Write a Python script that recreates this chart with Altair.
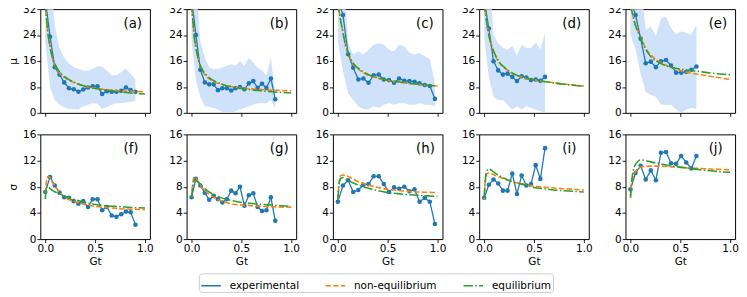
import altair as alt
import pandas as pd

SERIES = ["experimental", "non-equilibrium", "equilibrium"]
COLORS = ["#1f77b4", "#ff7f0e", "#2ca02c"]
DASHES = [[1, 0], [5.5, 2.4], [9.6, 2.4, 1.5, 2.4]]
BAND_COLOR = "#d0e2f9"
FONT = "DejaVu Sans"

# ---- experimental bins (Gt) ----
gt_a = [0.0, 0.048, 0.095, 0.143, 0.19, 0.238, 0.286, 0.333, 0.381, 0.429, 0.476, 0.524, 0.571, 0.619, 0.667, 0.714, 0.762, 0.81, 0.857, 0.905]
gt_b = [0.0, 0.044, 0.088, 0.133, 0.177, 0.221, 0.265, 0.309, 0.354, 0.398, 0.442, 0.486, 0.53, 0.575, 0.619, 0.663, 0.707, 0.751, 0.796, 0.84]
gt_c = [0.0, 0.051, 0.103, 0.154, 0.205, 0.256, 0.308, 0.359, 0.41, 0.461, 0.513, 0.564, 0.615, 0.667, 0.718, 0.769, 0.82, 0.872, 0.923, 0.974]
gt_d = [0.0, 0.047, 0.094, 0.141, 0.188, 0.235, 0.282, 0.329, 0.376, 0.423, 0.47, 0.517, 0.564, 0.611]
gt_e = [0.0, 0.051, 0.102, 0.153, 0.204, 0.255, 0.306, 0.357, 0.407, 0.458, 0.509, 0.56, 0.611, 0.662]

# ---- experimental mu (top row) ----
mu_a = [35, 23.5, 14.1, 11.8, 9.4, 7.6, 7.3, 6.5, 7.2, 7.8, 8.2, 8.2, 5.8, 6.7, 6.5, 6.5, 6.8, 7.8, 7.0, 6.5]
mu_b = [35, 24.0, 13.3, 9.4, 8.8, 8.8, 7.0, 7.6, 7.6, 6.9, 7.6, 8.0, 7.3, 9.1, 9.8, 7.7, 9.0, 7.7, 10.6, 4.2]
mu_c = [35, 30.2, 18.1, 13.9, 10.3, 10.6, 9.3, 11.6, 11.8, 10.3, 10.1, 9.3, 10.6, 9.9, 9.8, 9.6, 9.1, 8.6, 8.3, 4.3]
mu_d = [35, 26.0, 15.9, 13.1, 11.8, 12.1, 11.1, 9.8, 11.3, 10.9, 10.1, 10.3, 9.9, 11.1]
mu_e = [35, 30.2, 22.9, 15.3, 15.8, 14.1, 15.9, 16.3, 14.6, 12.4, 12.4, 12.7, 13.3, 14.3]

# ---- shaded spread of mu ----
lo_a = [22, 8, 4, 2.5, 1.8, 1.2, 1.2, 1.0, 2.0, 2.5, 3.0, 2.8, 1.2, 1.8, 2.5, 3.0, 3.0, 3.2, 3.4, 3.7]
hi_a = [50, 45, 27, 20, 17, 15.2, 14.1, 13.6, 13, 13, 13.6, 14.3, 14.3, 13, 11.6, 11.6, 12.6, 13.6, 12.1, 10.1]
lo_b = [22, 10, 5, 2, 1.8, 1.5, 1.0, 0.3, 0.2, 0, 0.5, 1.0, 1.5, 2, 2.5, 3, 3, 3, 4, 1.5]
hi_b = [50, 40, 22, 17, 14, 13.5, 13.5, 14, 14.5, 15, 14.5, 16, 14.5, 17, 15.5, 14, 13, 11.5, 17, 6]
lo_c = [22, 13, 6, 4, 2, 1.2, 1, 2, 1.5, 2.5, 3, 2.5, 3, 3, 2.5, 2.5, 3, 2.5, 2.5, 2]
hi_c = [50, 45, 21.5, 18, 19, 18, 19.5, 21, 21.5, 21, 19.5, 19, 21, 20.5, 18.6, 18, 18.5, 17.5, 16.6, 9]
lo_d = [23, 11, 5, 4, 4, 2.5, 1, 2, 1, 2, 1.5, 1, 0.5, 0]
hi_d = [50, 45, 24, 21.5, 20, 19.5, 20.6, 17.6, 21, 20, 20, 21.6, 19.6, 24.6]
lo_e = [24, 19.6, 12, 6.5, 5.5, 5.0, 2.5, 2.5, 2.5, 1.0, 0, 1.0, 1.5, 1.2]
hi_e = [50, 45, 40, 25.5, 26.7, 23.7, 29.2, 29.7, 26.2, 24.2, 25.2, 24.7, 24.2, 27]

# ---- experimental sigma (bottom row) ----
sg_f = [7.2, 9.5, 8.2, 7.1, 6.4, 6.3, 5.8, 5.4, 5.8, 4.9, 6.1, 6.1, 4.4, 4.9, 3.6, 3.4, 3.8, 4.2, 4.1, 2.2]
sg_g = [6.4, 9.2, 8.2, 7.1, 6.0, 6.6, 6.1, 5.6, 6.1, 7.4, 7.0, 8.0, 5.1, 6.7, 7.0, 4.9, 4.3, 4.4, 6.4, 2.8]
sg_h = [5.7, 8.2, 9.0, 7.2, 7.5, 8.3, 8.4, 9.6, 9.6, 8.4, 7.2, 7.9, 7.7, 8.0, 7.3, 7.6, 5.7, 6.3, 5.7, 2.3]
sg_i = [6.3, 8.3, 9.1, 8.5, 7.4, 7.4, 10.0, 6.9, 9.7, 8.2, 8.4, 11.3, 9.2, 13.9]
sg_j = [7.6, 10.1, 11.2, 9.1, 10.5, 9.0, 13.2, 13.3, 11.6, 11.5, 12.7, 11.7, 10.8, 12.7]

# ---- model curves, mu ----
gm = [0.0, 0.025, 0.05, 0.075, 0.1, 0.15, 0.2, 0.3, 0.4, 0.5, 0.6, 0.7, 0.8, 0.9, 1.0]
ne_a = [34, 25, 20, 16.5, 14.5, 12.0, 10.8, 9.2, 8.2, 7.6, 7.2, 6.9, 6.7, 6.6, 6.5]
eq_a = [34, 25, 20, 16.8, 14.8, 12.4, 11.0, 9.3, 8.2, 7.5, 7.0, 6.6, 6.3, 6.0, 5.8]
ne_b = [34, 24, 19, 15.5, 13.5, 11.2, 10.0, 8.8, 8.1, 7.7, 7.4, 7.2, 7.0, 6.9, 6.8]
eq_b = [34, 24, 19, 15.8, 13.8, 11.6, 10.3, 8.9, 8.0, 7.5, 7.1, 6.8, 6.5, 6.3, 6.1]
ne_c = [34, 29, 25, 21, 18.5, 15.2, 13.6, 11.7, 10.7, 10.0, 9.5, 9.1, 8.8, 8.5, 8.3]
eq_c = [34, 29, 25, 21.2, 18.8, 15.5, 13.9, 11.9, 10.8, 10.1, 9.6, 9.2, 8.8, 8.5, 8.3]
ne_d = [34, 28, 23.5, 20.5, 18.5, 15.5, 14.0, 11.9, 10.9, 10.2, 9.7, 9.3, 8.9, 8.6, 8.3]
eq_d = [34, 28, 23.5, 20.7, 18.7, 15.7, 14.1, 12.0, 10.9, 10.2, 9.7, 9.2, 8.8, 8.5, 8.2]
ne_e = [33, 30, 27, 25.2, 23.7, 20.0, 18.0, 15.6, 14.1, 13.1, 12.3, 11.8, 11.3, 10.8, 10.3]
eq_e = [33, 30, 27, 25.0, 23.2, 19.8, 17.5, 15.3, 14.1, 13.5, 13.1, 12.7, 12.3, 12.0, 11.8]

# ---- model curves, sigma ----
gs = [0.0, 0.01, 0.02, 0.03, 0.05, 0.075, 0.1, 0.15, 0.2, 0.3, 0.4, 0.5, 0.6, 0.7, 0.8, 0.9, 1.0]
ne_f = [7.0, 8.6, 9.4, 9.6, 9.3, 8.6, 8.0, 7.1, 6.4, 5.7, 5.3, 5.0, 4.85, 4.7, 4.6, 4.55, 4.5]
eq_f = [6.1, 7.6, 8.1, 8.0, 7.7, 7.4, 7.2, 6.8, 6.5, 6.0, 5.6, 5.3, 5.1, 5.0, 4.9, 4.8, 4.75]
ne_g = [6.3, 8.3, 9.3, 9.5, 9.2, 8.6, 8.0, 7.2, 6.6, 5.8, 5.4, 5.2, 5.1, 5.0, 4.95, 4.9, 4.85]
eq_g = [6.3, 7.9, 8.7, 9.0, 8.9, 8.6, 8.2, 7.5, 7.0, 6.3, 5.9, 5.6, 5.45, 5.3, 5.2, 5.1, 5.05]
ne_h = [6.0, 8.3, 9.3, 9.7, 9.8, 9.7, 9.6, 9.2, 8.8, 8.3, 7.9, 7.6, 7.45, 7.3, 7.2, 7.15, 7.1]
eq_h = [6.0, 8.2, 9.0, 9.3, 9.4, 9.2, 9.0, 8.6, 8.3, 7.8, 7.4, 7.1, 6.95, 6.8, 6.7, 6.6, 6.5]
ne_i = [6.0, 8.5, 9.6, 10.0, 10.1, 10.0, 9.8, 9.5, 9.2, 8.7, 8.4, 8.1, 7.95, 7.8, 7.7, 7.6, 7.5]
eq_i = [6.3, 8.8, 10.1, 10.5, 10.7, 10.5, 10.2, 9.7, 9.3, 8.7, 8.3, 7.9, 7.7, 7.5, 7.4, 7.3, 7.2]
ne_j = [6.5, 8.3, 9.2, 9.7, 10.3, 10.8, 11.0, 11.1, 11.15, 11.15, 11.05, 10.95, 10.85, 10.8, 10.7, 10.65, 10.6]
eq_j = [6.3, 8.5, 9.8, 10.6, 11.4, 11.9, 12.1, 12.0, 11.8, 11.5, 11.2, 11.0, 10.8, 10.6, 10.45, 10.3, 10.2]

PW, PH_TOP, PH_BOT = 112, 106, 107

color_scale = alt.Scale(domain=SERIES, range=COLORS)
dash_scale = alt.Scale(domain=SERIES, range=DASHES)
legend = alt.Legend(
    orient="none", legendX=162, legendY=270, direction="horizontal", title=None,
    symbolType="stroke", symbolSize=400, symbolStrokeWidth=1.5,
    labelFont=FONT, labelFontSize=10.7, labelColor="black", labelOffset=8,
    columnPadding=24, padding=1.5, strokeColor="#cccccc", fillColor="white",
    cornerRadius=3,
)


def panel(label, gt, vals, gmod, ne, eq, ymax, yticks, ytitle, bottom, lo=None, hi=None):
    ph = PH_BOT if bottom else PH_TOP
    xs = alt.Scale(domain=[-0.05, 1.05], nice=False, zero=False)
    ys = alt.Scale(domain=[0, ymax], nice=False, zero=False)
    if bottom:
        xax = alt.Axis(values=[0, 0.5, 1.0], format=".1f", title="Gt", labelPadding=1.5, titlePadding=3)
    else:
        xax = alt.Axis(values=[0, 0.5, 1.0], labels=False, title=None)
    if ytitle:
        yax = alt.Axis(values=yticks, title=ytitle, labelPadding=1, titlePadding=4)
    else:
        yax = alt.Axis(values=yticks, title=None, labelPadding=1)

    layers = []
    if lo is not None:
        band = pd.DataFrame({"Gt": gt, "lo": lo, "hi": hi})
        layers.append(
            alt.Chart(band).mark_area(color=BAND_COLOR, opacity=1, clip=True).encode(
                x=alt.X("Gt:Q", scale=xs, axis=xax),
                y=alt.Y("lo:Q", scale=ys, axis=yax),
                y2="hi:Q",
            )
        )
    exp = pd.DataFrame({"Gt": gt, "v": vals, "series": "experimental"})
    mod = pd.concat([
        pd.DataFrame({"Gt": gmod, "v": ne, "series": "non-equilibrium"}),
        pd.DataFrame({"Gt": gmod, "v": eq, "series": "equilibrium"}),
    ])
    enc_c = alt.Color("series:N", scale=color_scale, legend=legend)
    enc_d = alt.StrokeDash("series:N", scale=dash_scale, legend=legend)
    layers.append(
        alt.Chart(exp).mark_line(strokeWidth=1.3, clip=True).encode(
            x=alt.X("Gt:Q", scale=xs, axis=xax),
            y=alt.Y("v:Q", scale=ys, axis=yax),
            color=enc_c, strokeDash=enc_d,
        )
    )
    layers.append(
        alt.Chart(exp).mark_circle(size=22, opacity=1, color="#1f77b4", clip=True).encode(
            x=alt.X("Gt:Q", scale=xs, axis=xax),
            y=alt.Y("v:Q", scale=ys, axis=yax),
        )
    )
    layers.append(
        alt.Chart(mod).mark_line(strokeWidth=1.6, interpolate="monotone", clip=True).encode(
            x=alt.X("Gt:Q", scale=xs, axis=xax),
            y=alt.Y("v:Q", scale=ys, axis=yax),
            color=enc_c, strokeDash=enc_d,
        )
    )
    lab = pd.DataFrame({"t": [label]})
    layers.append(
        alt.Chart(lab).mark_text(align="left", baseline="middle", font=FONT, fontSize=13.6, color="black").encode(
            x=alt.value(85), y=alt.value(15.5), text="t:N"
        )
    )
    return alt.layer(*layers).properties(width=PW, height=ph)


top_ticks = [0, 8, 16, 24, 32]
bot_ticks = [0, 4, 8, 12, 16]
charts = [
    panel("(a)", gt_a, mu_a, gm, ne_a, eq_a, 32, top_ticks, "μ", False, lo_a, hi_a),
    panel("(b)", gt_b, mu_b, gm, ne_b, eq_b, 32, top_ticks, None, False, lo_b, hi_b),
    panel("(c)", gt_c, mu_c, gm, ne_c, eq_c, 32, top_ticks, None, False, lo_c, hi_c),
    panel("(d)", gt_d, mu_d, gm, ne_d, eq_d, 32, top_ticks, None, False, lo_d, hi_d),
    panel("(e)", gt_e, mu_e, gm, ne_e, eq_e, 32, top_ticks, None, False, lo_e, hi_e),
    panel("(f)", gt_a, sg_f, gs, ne_f, eq_f, 16, bot_ticks, "σ", True),
    panel("(g)", gt_b, sg_g, gs, ne_g, eq_g, 16, bot_ticks, None, True),
    panel("(h)", gt_c, sg_h, gs, ne_h, eq_h, 16, bot_ticks, None, True),
    panel("(i)", gt_d, sg_i, gs, ne_i, eq_i, 16, bot_ticks, None, True),
    panel("(j)", gt_e, sg_j, gs, ne_j, eq_j, 16, bot_ticks, None, True),
]

chart = alt.concat(
    *charts, columns=5, spacing={"row": 22, "column": 37.5}, bounds="flush"
).resolve_scale(
    color="shared", strokeDash="shared"
).properties(
    padding={"left": -1, "top": -9, "right": 0, "bottom": 0}
).configure_view(
    stroke="black", strokeWidth=1
).configure_axis(
    domain=False, grid=False, tickColor="black", tickSize=3.5, tickWidth=0.9,
    labelColor="black", labelFont=FONT, labelFontSize=10.7,
    titleColor="black", titleFont=FONT, titleFontSize=10.7, titleFontWeight="normal",
)

chart.save("out.html", embed_options={"renderer": "svg", "actions": False})
